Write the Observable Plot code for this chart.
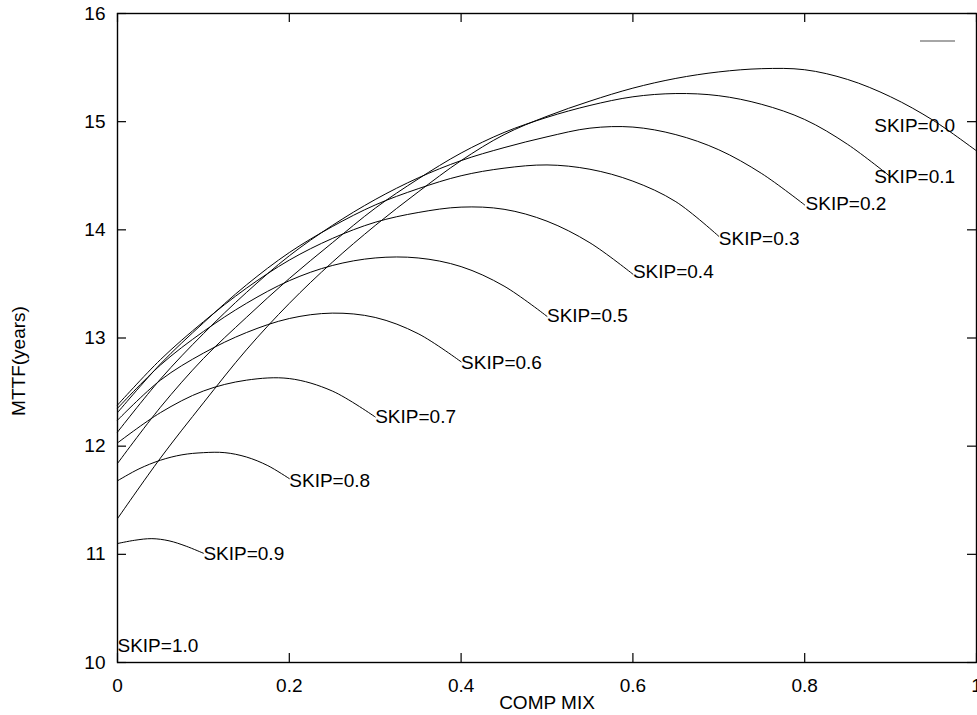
<!DOCTYPE html>
<html>
<head>
<meta charset="utf-8">
<script src="https://cdn.jsdelivr.net/npm/d3@7"></script>
<script src="https://cdn.jsdelivr.net/npm/@observablehq/plot@0.6"></script>
<style>
  html, body { margin: 0; padding: 0; background: #fff; }
</style>
</head>
<body>
<div id="chart"></div>
<script>
// ---- data ----
const skipLevels = ["0.0", "0.1", "0.2", "0.3", "0.4", "0.5", "0.6", "0.7", "0.8", "0.9"];

const compStep = [0, 0.05, 0.1, 0.15, 0.2, 0.25, 0.3, 0.35, 0.4, 0.45, 0.5,
                  0.55, 0.6, 0.65, 0.7, 0.75, 0.8, 0.85, 0.9, 0.95, 1.0];

const mttfSkip00 = [11.33, 11.89, 12.40, 12.89, 13.32, 13.70, 14.04, 14.35, 14.64, 14.88, 15.05,
                    15.19, 15.31, 15.40, 15.46, 15.49, 15.48, 15.39, 15.23, 15.01, 14.73];
const mttfSkip01 = [11.84, 12.36, 12.81, 13.19, 13.55, 13.88, 14.20, 14.47, 14.71, 14.90, 15.04,
                    15.15, 15.23, 15.26, 15.24, 15.16, 15.02, 14.79, 14.49];
const mttfSkip02 = [12.13, 12.62, 13.04, 13.42, 13.76, 14.04, 14.28, 14.48, 14.64, 14.76, 14.86,
                    14.94, 14.95, 14.88, 14.74, 14.52, 14.23];
const mttfSkip03 = [12.31, 12.76, 13.14, 13.49, 13.79, 14.03, 14.23, 14.38, 14.50, 14.57, 14.60,
                    14.56, 14.45, 14.26, 13.94];
const mttfSkip04 = [12.38, 12.80, 13.15, 13.46, 13.72, 13.92, 14.07, 14.16, 14.21, 14.19, 14.08,
                    13.88, 13.59];
const mttfSkip05 = [12.35, 12.75, 13.06, 13.32, 13.53, 13.67, 13.74, 13.74, 13.66, 13.48, 13.20];
const mttfSkip06 = [12.24, 12.61, 12.86, 13.05, 13.18, 13.23, 13.19, 13.04, 12.78];
const mttfSkip07 = [12.03, 12.31, 12.51, 12.61, 12.625, 12.51, 12.27];

const compSkip08 = [0, 0.025, 0.05, 0.075, 0.1, 0.125, 0.15, 0.175, 0.2];
const mttfSkip08 = [11.68, 11.79, 11.87, 11.92, 11.94, 11.94, 11.90, 11.82, 11.70];

const compSkip09 = [0, 0.02, 0.04, 0.06, 0.08, 0.1];
const mttfSkip09 = [11.10, 11.13, 11.145, 11.125, 11.075, 11.01];

const labelText = ["SKIP=0.0", "SKIP=0.1", "SKIP=0.2", "SKIP=0.3", "SKIP=0.4", "SKIP=0.5",
                   "SKIP=0.6", "SKIP=0.7", "SKIP=0.8", "SKIP=0.9", "SKIP=1.0"];
const labelComp = [0.881, 0.881, 0.801, 0.70, 0.60, 0.50, 0.40, 0.30, 0.20, 0.10, 0.0];
const labelMttf = [14.96, 14.49, 14.24, 13.92, 13.61, 13.20, 12.77, 12.27, 11.68, 11.00, 10.15];

const xDomain = [0, 1];
const yDomain = [10, 16];
const xTicks = [0, 0.2, 0.4, 0.6, 0.8, 1];
const yTicks = [10, 11, 12, 13, 14, 15, 16];

// ---- assemble tables ----
const seriesComp = [compStep, compStep, compStep, compStep, compStep, compStep, compStep, compStep, compSkip08, compSkip09];
const seriesMttf = [mttfSkip00, mttfSkip01, mttfSkip02, mttfSkip03, mttfSkip04, mttfSkip05, mttfSkip06, mttfSkip07, mttfSkip08, mttfSkip09];

const rows = skipLevels.flatMap((skip, k) =>
  seriesMttf[k].map((m, i) => ({skip, comp: seriesComp[k][i], mttf: m})));

const labels = labelText.map((text, i) => ({text, comp: labelComp[i], mttf: labelMttf[i]}));

const FONT = "'Liberation Sans', Arial, Helvetica, sans-serif";
const TICK = 9; // inward tick length in px

const chart = Plot.plot({
  width: 977,
  height: 715,
  marginLeft: 117,
  marginRight: 1,
  marginTop: 13,
  marginBottom: 53,
  x: {domain: xDomain},
  y: {domain: yDomain},
  style: {fontFamily: FONT, fontSize: "19px", color: "black", background: "white", overflow: "visible"},
  marks: [
    // tick labels
    Plot.axisX(xTicks, {anchor: "bottom", tickSize: 0, tickPadding: 16, tickFormat: d => String(d), label: null}),
    Plot.axisY(yTicks, {anchor: "left", tickSize: 0, tickPadding: 12, tickFormat: d => String(d), label: null}),
    // inward tick marks on all four sides (mirrored)
    Plot.ruleX(xTicks, {x: d => d, y1: yDomain[0], y2: yDomain[0], insetTop: -TICK, stroke: "black", strokeWidth: 1.2}),
    Plot.ruleX(xTicks, {x: d => d, y1: yDomain[1], y2: yDomain[1], insetBottom: -TICK, stroke: "black", strokeWidth: 1.2}),
    Plot.ruleY(yTicks, {y: d => d, x1: xDomain[0], x2: xDomain[0], insetRight: -TICK, stroke: "black", strokeWidth: 1.2}),
    Plot.ruleY(yTicks, {y: d => d, x1: xDomain[1], x2: xDomain[1], insetLeft: -TICK, stroke: "black", strokeWidth: 1.2}),
    // curves
    Plot.line(rows, {x: "comp", y: "mttf", z: "skip", stroke: "black", strokeWidth: 1, curve: "catmull-rom"}),
    Plot.frame({stroke: "black", strokeWidth: 1.4}),
    // curve labels
    Plot.text(labels, {x: "comp", y: "mttf", text: "text", textAnchor: "start", lineAnchor: "middle", fontSize: 19, fill: "black"}),
    // axis titles
    Plot.text(["MTTF(years)"], {frameAnchor: "left", textAnchor: "middle", lineAnchor: "middle", rotate: -90, dx: -99, dy: 23, fontSize: 19, fill: "black"}),
    Plot.text(["COMP MIX"], {frameAnchor: "bottom", textAnchor: "middle", lineAnchor: "middle", dy: 40, fontSize: 19, fill: "black"})
  ]
});

// empty-title key sample (top right)
d3.select(chart).append("line")
  .attr("x1", 920).attr("x2", 955)
  .attr("y1", 41).attr("y2", 41)
  .attr("stroke", "#888").attr("stroke-width", 1.5);

document.getElementById("chart").appendChild(chart);
</script>
</body>
</html>
